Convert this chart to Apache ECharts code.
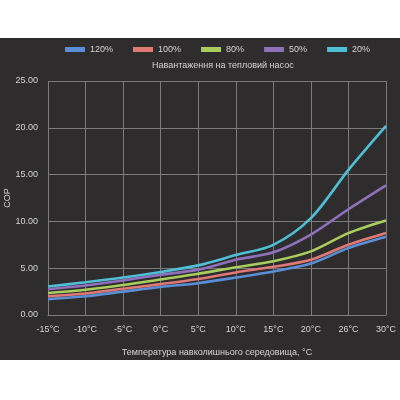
<!DOCTYPE html>
<html>
<head>
<meta charset="utf-8">
<script src="https://cdn.jsdelivr.net/npm/echarts@6/dist/echarts.min.js"></script>
<style>
  html, body { margin: 0; padding: 0; background: #ffffff; }
  #wrap { position: relative; width: 400px; height: 400px; background: #ffffff; }
  #chart { position: absolute; left: 0; top: 38px; width: 400px; height: 322px; background: #2e2c2c; }
</style>
</head>
<body>
<div id="wrap"><div id="chart"></div></div>
<script>
const categories = ["-15°C", "-10°C", "-5°C", "0°C", "5°C", "10°C", "15°C", "20°C", "26°C", "30°C"];
const load120 = [1.7, 2.0, 2.5, 3.0, 3.4, 4.0, 4.65, 5.5, 7.15, 8.35];
const load100 = [2.0, 2.3, 2.8, 3.3, 3.85, 4.55, 5.15, 5.9, 7.5, 8.75];
const load80 = [2.35, 2.7, 3.2, 3.8, 4.4, 5.1, 5.75, 6.8, 8.75, 10.1];
const load50 = [2.75, 3.15, 3.7, 4.3, 4.85, 5.9, 6.7, 8.6, 11.3, 13.85];
const load20 = [3.05, 3.5, 4.0, 4.6, 5.3, 6.4, 7.5, 10.35, 15.5, 20.2];
const seriesNames = ["120%", "100%", "80%", "50%", "20%"];
const colors = ["#5a8fd8", "#e07876", "#a9cd5e", "#8f70bb", "#4ebfd5"];

const font = "Liberation Sans, Arial, sans-serif";
const textColor = "#d6d6d6";
const gridColor = "#7c7b7b";
const fs = 9;

const chart = echarts.init(document.getElementById("chart"));

const makeLine = (name, data, i) => ({
  name,
  type: "line",
  data,
  smooth: 0.3,
  symbol: "none",
  lineStyle: { width: 2.6, color: colors[i] },
  itemStyle: { color: colors[i] },
});

chart.setOption({
  animation: false,
  textStyle: { fontFamily: font },
  legend: {
    top: 2,
    left: 60,
    icon: "rect",
    itemWidth: 20,
    itemHeight: 5,
    itemGap: 20,
    textStyle: { color: textColor, fontSize: fs, fontFamily: font },
    data: seriesNames,
  },
  graphic: [
    {
      type: "text",
      left: 152,
      top: 23,
      style: { text: "Навантаження на тепловий насос", fill: textColor, fontSize: fs, fontFamily: font },
    },
  ],
  grid: { left: 48, right: 14, top: 43, bottom: 45, outerBoundsMode: "none" },
  xAxis: {
    type: "category",
    data: categories,
    boundaryGap: false,
    name: "Температура навколишнього середовища, °C",
    nameLocation: "middle",
    nameGap: 33,
    nameMoveOverlap: false,
    nameTextStyle: { color: textColor, fontSize: fs, fontFamily: font },
    axisLine: { lineStyle: { color: gridColor } },
    axisTick: { show: false },
    axisLabel: { color: textColor, fontSize: fs, margin: 10, fontFamily: font },
    splitLine: { show: true, lineStyle: { color: gridColor, width: 1 } },
  },
  yAxis: {
    type: "value",
    min: 0,
    max: 25,
    interval: 5,
    name: "COP",
    nameLocation: "middle",
    nameGap: 36,
    nameMoveOverlap: false,
    nameTextStyle: { color: textColor, fontSize: fs, fontFamily: font },
    axisLine: { show: false },
    axisTick: { show: false },
    axisLabel: { color: textColor, fontSize: fs, margin: 10, fontFamily: font, formatter: (v) => v.toFixed(2) },
    splitLine: { lineStyle: { color: gridColor, width: 1 } },
  },
  series: [
    makeLine(seriesNames[0], load120, 0),
    makeLine(seriesNames[1], load100, 1),
    makeLine(seriesNames[2], load80, 2),
    makeLine(seriesNames[3], load50, 3),
    makeLine(seriesNames[4], load20, 4),
  ],
});
</script>
</body>
</html>
